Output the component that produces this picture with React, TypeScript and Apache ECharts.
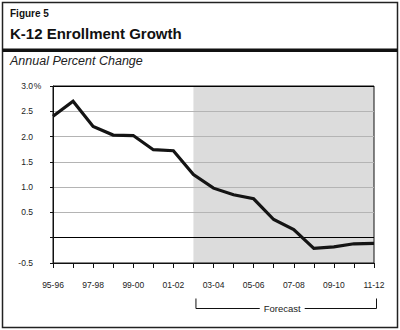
import React, { useEffect, useRef } from "react";
import * as echarts from "echarts";

const categories = [
  "95-96", "96-97", "97-98", "98-99", "99-00", "00-01", "01-02", "02-03",
  "03-04", "04-05", "05-06", "06-07", "07-08", "08-09", "09-10", "10-11", "11-12",
];
const growth = [
  2.4, 2.7, 2.2, 2.03, 2.02, 1.74, 1.72, 1.25,
  0.98, 0.85, 0.77, 0.36, 0.16, -0.21, -0.18, -0.12, -0.11,
];
const forecastStart = "02-03";
const forecastEnd = "11-12";
const titleSmall = "Figure 5";
const titleMain = "K-12 Enrollment Growth";
const subtitle = "Annual Percent Change";
const forecastLabel = "Forecast";

const FONT = "Liberation Sans, Arial, Helvetica, sans-serif";

export default function App() {
  const ref = useRef<HTMLDivElement>(null);
  useEffect(() => {
    if (!ref.current) return;
    const chart = echarts.init(ref.current, null, { renderer: "svg" });
    const gridColors = ["#000", "#000", "#b4b4b4", "#b4b4b4", "#b4b4b4", "#b4b4b4", "#b4b4b4", "#000"];
    chart.setOption({
      animation: false,
      backgroundColor: "#fff",
      textStyle: { fontFamily: FONT },
      grid: {
        left: 53, right: 26, top: 86, bottom: 67,
        show: true, borderColor: "#111", borderWidth: 1,
        backgroundColor: "transparent", z: 2,
      },
      xAxis: {
        type: "category",
        data: categories,
        boundaryGap: false,
        z: 2,
        axisLine: { onZero: false, lineStyle: { color: "#111", width: 1 } },
        axisTick: { show: true, interval: 0, length: 5, lineStyle: { color: "#111" } },
        axisLabel: { interval: 1, margin: 17, fontSize: 8.5, color: "#222", fontFamily: FONT },
        splitLine: { show: false },
      },
      yAxis: {
        type: "value",
        min: -0.5, max: 3.0, interval: 0.5,
        z: 2,
        axisLine: { show: true, lineStyle: { color: "#111", width: 1 } },
        axisTick: { show: true, length: 3, lineStyle: { color: "#111" } },
        axisLabel: {
          margin: 11, fontSize: 8.5, color: "#222", fontFamily: FONT,
          formatter: (v: number) => {
            if (Math.abs(v) < 1e-9) return "";
            if (Math.abs(v - 3) < 1e-9) return "{n|" + v.toFixed(1) + "}{p|%}";
            return "{n|" + v.toFixed(1) + "}{s|\u00a0}";
          },
          rich: {
            n: { fontSize: 8.5, color: "#222", fontFamily: FONT },
            p: { width: 9, align: "left", fontSize: 8.5, color: "#222", fontFamily: FONT },
            s: { width: 9, fontSize: 8.5, color: "#222", fontFamily: FONT },
          },
        },
        splitLine: { show: true, lineStyle: { color: gridColors, width: 1 } },
      },
      series: [
        {
          type: "line",
          z: 0,
          data: [],
          silent: true,
          markArea: {
            silent: true,
            z: 0,
            itemStyle: { color: "#dcdcdc" },
            data: [[{ xAxis: forecastStart }, { xAxis: forecastEnd }]],
          },
        },
        {
          type: "line",
          z: 5,
          data: growth,
          symbol: "none",
          lineStyle: { color: "#141414", width: 3.2, join: "miter" },
        },
      ],
    });
    const x1 = chart.convertToPixel({ xAxisIndex: 0 }, forecastStart) as number;
    const x2 = chart.convertToPixel({ xAxisIndex: 0 }, forecastEnd) as number;
    const bx1 = x1 + 2.5;
    const bx2 = x2 + 2.5;
    const by = 308.5;
    chart.setOption({
      graphic: [
        { type: "rect", shape: { x: 2.5, y: 2.5, width: 395, height: 325 }, style: { fill: "none", stroke: "#222", lineWidth: 1.5 } },
        { type: "rect", shape: { x: 2.5, y: 48.5, width: 395, height: 3.5 }, style: { fill: "#111" } },
        { type: "text", x: 10, y: 13.5, style: { text: titleSmall, font: `bold 10px ${FONT}`, fill: "#111", verticalAlign: "middle" } },
        { type: "text", x: 10, y: 33, style: { text: titleMain, font: `bold 15px ${FONT}`, fill: "#111", verticalAlign: "middle" } },
        { type: "text", x: 10, y: 61, style: { text: subtitle, font: `italic 12.5px ${FONT}`, fill: "#222", verticalAlign: "middle" } },
        { type: "polyline", shape: { points: [[bx1, 298.5], [bx1, by], [bx2, by], [bx2, 298.5]] }, style: { fill: "none", stroke: "#111", lineWidth: 1 } },
        {
          type: "text", x: (bx1 + bx2) / 2 - 4, y: by,
          style: {
            text: forecastLabel, font: `9.5px ${FONT}`, fill: "#222",
            align: "center", verticalAlign: "middle",
            backgroundColor: "#fff", padding: [0, 4],
          },
        },
      ],
    });
    return () => chart.dispose();
  }, []);
  return <div ref={ref} style={{ position: "fixed", left: 0, top: 0, width: 400, height: 330 }} />;
}
